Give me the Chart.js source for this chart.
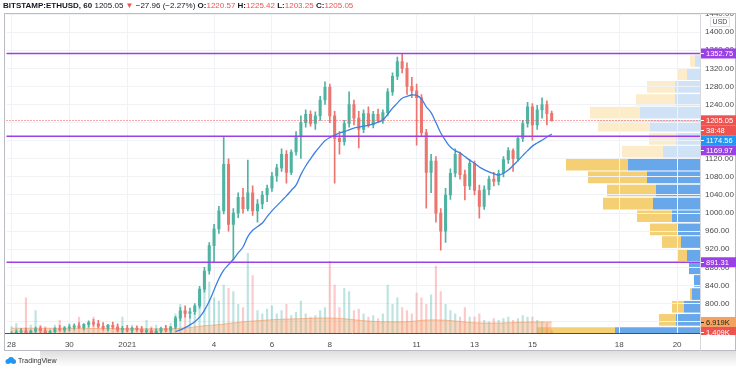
<!DOCTYPE html>
<html>
<head>
<meta charset="utf-8">
<script src="https://cdn.jsdelivr.net/npm/chart.js@4.4.1/dist/chart.umd.min.js"></script>
<style>
  html, body { margin: 0; padding: 0; background: #fff; }
  #wrap { position: relative; width: 736px; height: 369px; overflow: hidden;
          font-family: 'Liberation Sans Narrow', 'Liberation Sans', Arial, sans-serif; }
  #wrap canvas { position: absolute; left: 0; top: 0; }
  #head { position: absolute; left: 3px; top: 0; font-size: 8px; line-height: 11px; color: #131722; white-space: nowrap; }
  #head .r { color: #ef5350; }
  #shadow { position: absolute; left: 40px; right: 0; top: 351px; height: 16px;
            background: linear-gradient(rgba(0,0,0,0.13), rgba(0,0,0,0)); }
  #logo { position: absolute; left: 5px; top: 357px; font-size: 7px; color: #333; white-space: nowrap; }
  #logo svg { vertical-align: -1px; margin-right: 2px; }
</style>
</head>
<body>
<div id="wrap">
  <canvas id="vp" width="736" height="369"></canvas>
  <canvas id="chart" width="736" height="369"></canvas>
  <div id="head"><b>BITSTAMP:ETHUSD, 60</b> 1205.05 <span class="r">&#9660;</span> &minus;27.96 (&minus;2.27%) <b>O:</b><span class="r">1220.57</span> <b>H:</b><span class="r">1225.42</span> <b>L:</b><span class="r">1203.25</span> <b>C:</b><span class="r">1205.05</span></div>
  <div id="shadow"></div>
  <div id="logo"><svg width="11" height="7" viewBox="0 0 11 7"><circle cx="3" cy="4.5" r="2.5" fill="#2196f3"/><circle cx="6" cy="3" r="3" fill="#2196f3"/><circle cx="8.5" cy="4.5" r="2.5" fill="#2196f3"/></svg>TradingView</div>
</div>
<script>
// 4-hour candles from Dec 28 2020 00:00
const stepHours = 4;
const open = [728,734,737,740,736,739, 744,740,733,738,745,742, 746,748,751,747,754,758, 755,750,745,752,748,742,
  745,741,746,743,738,740, 736,739,745,741,748,768, 784,778,782,795,832,872, 928,965,1005,1108,975,1000,
  1035,1010,1045,1005,1020,1040, 1055,1082,1100,1130,1090,1135, 1170,1200,1218,1198,1215,1250, 1278,1215,1165,1158,1198,1240,
  1210,1185,1220,1195,1218,1205, 1222,1268,1302,1335,1320,1280, 1270,1255,1178,1090,1115,1000, 960,1040,1088,1130,1085,1060,
  1110,1050,1015,1052,1075,1070, 1088,1118,1138,1120,1165,1198, 1235,1195,1228,1240,1220.57];
const high = [738,742,745,746,742,748, 750,746,741,747,752,749, 753,755,758,756,762,765, 763,758,754,759,755,750,
  752,748,751,749,745,746, 744,748,752,750,772,792, 795,790,800,838,880,935, 975,1015,1168,1120,1010,1045,
  1055,1117,1060,1030,1048,1062, 1090,1108,1142,1138,1140,1180, 1215,1228,1226,1224,1258,1290, 1285,1225,1180,1205,1268,1250,
  1225,1228,1235,1225,1230,1228, 1275,1310,1345,1353,1332,1300, 1285,1262,1185,1130,1125,1010, 1055,1098,1142,1135,1095,1118,
  1115,1062,1060,1082,1090,1095, 1125,1145,1142,1170,1205,1245, 1242,1238,1255,1248,1225.42];
const low = [722,728,731,733,729,735, 736,730,726,734,739,737, 740,743,745,742,748,750, 746,742,740,744,738,736,
  738,735,739,734,731,733, 730,734,738,736,744,762, 770,768,776,790,825,865, 892,955,998,960,896,990,
  1000,1005,995,980,1010,1025, 1048,1070,1092,1066,1085,1128, 1121,1190,1192,1185,1205,1240, 1200,1066,1130,1150,1190,1195,
  1144,1178,1190,1188,1200,1198, 1215,1260,1295,1310,1262,1255, 1150,1170,1011,1045,980,918, 935,1030,1080,1075,1029,1052,
  1040,989,1008,1040,1060,1062, 1080,1110,1092,1115,1158,1190, 1161,1185,1210,1195,1203.25];
const close = [734,737,740,736,739,744, 740,733,738,745,742,746, 748,751,747,754,758,755, 750,745,752,748,742,745,
  741,746,743,738,740,736, 739,745,741,748,768,784, 778,782,795,832,872,928, 965,1005,1108,975,1000,1035,
  1010,1045,1005,1020,1040,1055, 1082,1100,1130,1090,1135,1170, 1200,1218,1198,1215,1250,1278, 1215,1165,1158,1198,1240,1210,
  1185,1220,1195,1218,1205,1222, 1268,1302,1335,1320,1280,1270, 1255,1178,1090,1115,1000,960, 1040,1088,1130,1085,1060,1110,
  1050,1015,1052,1075,1070,1088, 1118,1138,1120,1165,1198,1235, 1195,1228,1240,1220,1205.05];
// volume in thousands of ETH
const volume = [4,6,3,22,5,14, 5,4,3,5,8,4, 6,4,10,4,5,10, 6,4,5,3,5,10, 4,5,3,4,8,4, 5,3,4,6,12,18,
  14,10,16,20,28,32, 22,20,30,28,26,18, 16,50,36,14,12,15, 17,12,14,18,11,13, 20,12,10,11,14,16,
  45,30,16,28,26,14, 15,12,10,11,9,12, 30,18,22,16,14,12, 25,22,18,24,42,26, 18,14,12,10,16,10,
  10,12,8,7,9,8, 9,10,8,9,11,10, 10,8,7,6,1.4];
const volumeMA = [3,3,3,3,3,3, 3,3,3,3,3,3, 2.9,2.9,2.9,2.9,2.9,2.9, 2.8,2.8,2.8,2.8,2.8,2.8,
  2.7,2.7,2.7,2.6,2.6,2.6, 2.6,2.6,2.6,2.7,2.8,3, 3.2,3.5,3.8,4.2,4.5,4.8, 5,5.3,5.6,6,6.3,6.6,
  7,7.3,7.5,7.7,7.9,8.1, 8.3,8.5,8.6,8.7,8.8,8.9, 9,9.1,9.2,9.3,9.4,9.4, 9.4,9.3,9.1,8.9,8.6,8.3,
  8,7.7,7.5,7.3,7.1,7, 7,7,7,7,7.1,7.3, 7.6,7.9,8.1,8.2,8.2,8.1, 8,7.8,7.5,7.2,6.9,6.6,
  6.4,6.3,6.2,6.2,6.2,6.2, 6.3,6.4,6.5,6.6,6.7,6.8, 6.9,6.9,6.9,6.9,6.919];
// moving average, starts at candle 34
const maStart = 34;
const ma = [738,742,747,753,760,770, 785,805,830,855,874,886, 898,912,925,948,962,970, 978,992,1005,1016,1027,1038,
  1050,1062,1085,1104,1120,1135, 1148,1160,1167,1172,1177,1180, 1184,1188,1190,1192,1194,1197, 1201,1206,1218,1232,1243,1254,
  1258,1261,1260,1252,1235,1222, 1200,1177,1160,1146,1138,1133, 1125,1117,1110,1102,1096,1091, 1087,1084,1088,1095,1105,1116,
  1127,1138,1148,1155,1161,1168, 1174.56];

// volume profile (visible range) rows
const vpPrice = [1336,1307,1279,1250,1222,1193,1164,1136,1107,1079,1050,1021,993,964,936,907,878,850,821,793,764,735];
const vpUp    = [5,13,25,25,60,50,24,37,72,53,44,47,28,23,19,13,11,6,8,16,24,85];
const vpDown  = [5,10,28,39,50,52,27,41,62,59,49,50,35,27,19,9,0,0,2,12,17,78];
const valueAreaHigh = 1122;

const levels = [1352.75, 1169.97, 891.31];
const lastPrice = 1205.05;
const priceTicks = [760,800,840,880,920,960,1000,1040,1080,1120,1160,1200,1240,1280,1320,1360,1400,1440];
const tickDays = [0,2,4,7,9,11,14,16,18,21,23];
const tickNames = ['28','30','2021','4','6','8','11','13','15','18','20'];

const F = "'Liberation Sans Narrow', 'Liberation Sans', Arial, sans-serif";
const upCol = '#4fb3a2', dnCol = '#ec7570', purple = '#9a40e6';
const hrs = close.map((_, i) => i * stepHours);
const candleCol = close.map((c, i) => c >= open[i] ? upCol : dnCol);
const volCol = close.map((c, i) => c >= open[i] ? 'rgba(38,166,154,0.3)' : 'rgba(239,83,80,0.3)');

// volume profile sits underneath the price chart
new Chart(document.getElementById('vp'), {
  type: 'bar',
  data: {
    datasets: [
      { data: vpPrice.map((p, k) => ({ x: vpUp[k], y: p })),
        backgroundColor: vpPrice.map(p => p < valueAreaHigh ? '#68a7ea' : '#cfe2f6') },
      { data: vpPrice.map((p, k) => ({ x: vpDown[k], y: p })),
        backgroundColor: vpPrice.map(p => p < valueAreaHigh ? '#f5cf73' : '#fdecc9') }
    ]
  },
  options: {
    indexAxis: 'y', responsive: false, animation: false,
    layout: { padding: { left: 5, top: 14, right: 36, bottom: 36 } },
    plugins: { legend: { display: false }, tooltip: { enabled: false } },
    datasets: { bar: { categoryPercentage: 1, barPercentage: 0.92 } },
    scales: {
      x: { type: 'linear', display: false, reverse: true, min: 0, max: 695, stacked: true },
      y: { type: 'linear', display: false, min: 735, max: 1440, stacked: true, offset: false }
    }
  }
});

function priceLabel(ctx, y, text, bg, fg) {
  ctx.fillStyle = bg;
  ctx.fillRect(701, y - 5, 35, 10);
  ctx.fillStyle = fg;
  ctx.fillRect(701, Math.round(y), 3, 1);
  ctx.fillText(text, 706, y + 0.5);
}

const drawings = {
  id: 'drawings',
  afterDatasetsDraw(chart) {
    const { ctx, chartArea: a, scales: { y } } = chart;
    ctx.save();
    ctx.strokeStyle = '#ef5350';
    ctx.lineWidth = 1;
    ctx.setLineDash([1, 2]);
    const py = Math.round(y.getPixelForValue(lastPrice)) + 0.5;
    ctx.beginPath(); ctx.moveTo(a.left, py); ctx.lineTo(a.right, py); ctx.stroke();
    ctx.setLineDash([]);
    ctx.strokeStyle = purple;
    ctx.lineWidth = 1.6;
    levels.forEach(v => {
      const ly = y.getPixelForValue(v);
      ctx.beginPath(); ctx.moveTo(a.left, ly); ctx.lineTo(a.right + 2, ly); ctx.stroke();
    });
    ctx.restore();
  },
  afterDraw(chart) {
    const { ctx, scales: { y, yVol } } = chart;
    ctx.save();
    ctx.clearRect(700, 0, 36, 13);

    // frame
    ctx.lineWidth = 1;
    ctx.strokeStyle = '#b9bcc3';
    ctx.strokeRect(4.5, 13.5, 731, 337);
    ctx.strokeStyle = '#d6d8de';
    ctx.beginPath(); ctx.moveTo(700.5, 13); ctx.lineTo(700.5, 351); ctx.stroke();
    ctx.strokeStyle = '#4b4e57';
    ctx.beginPath(); ctx.moveTo(5, 333.5); ctx.lineTo(700, 333.5); ctx.stroke();

    // USD badge
    ctx.fillStyle = '#fff';
    ctx.fillRect(710, 17, 20, 10);
    ctx.strokeStyle = '#dfe1e6';
    ctx.strokeRect(710.5, 17.5, 19, 9);
    ctx.fillStyle = '#4a4a4a';
    ctx.font = `7px ${F}`;
    ctx.textAlign = 'center';
    ctx.textBaseline = 'middle';
    ctx.fillText('USD', 720, 22.5);

    // labels on the price scale, pushed apart like TradingView does
    const labels = [
      { y: y.getPixelForValue(1352.75), t: '1352.75', bg: purple, fg: '#fff' },
      { y: y.getPixelForValue(lastPrice), t: '1205.05', bg: '#ef5350', fg: '#fff' },
      { y: y.getPixelForValue(lastPrice) + 0.1, t: '38:48', bg: '#ef5350', fg: '#fff' },
      { y: y.getPixelForValue(ma[ma.length - 1]), t: '1174.56', bg: '#2196f3', fg: '#fff' },
      { y: y.getPixelForValue(1169.97), t: '1169.97', bg: purple, fg: '#fff' },
      { y: y.getPixelForValue(891.31), t: '891.31', bg: purple, fg: '#fff' },
      { y: yVol.getPixelForValue(volumeMA[volumeMA.length - 1]), t: '6.919K', bg: '#f4a35e', fg: '#222' },
      { y: yVol.getPixelForValue(volume[volume.length - 1]), t: '1.409K', bg: '#ef5350', fg: '#fff' }
    ].sort((p, q) => p.y - q.y);
    for (let k = 1; k < labels.length; k++) {
      if (labels[k].y < labels[k - 1].y + 10) labels[k].y = labels[k - 1].y + 10;
    }
    ctx.beginPath(); ctx.rect(700, 13, 36, 322); ctx.clip();
    ctx.font = `7.5px ${F}`;
    ctx.textAlign = 'left';
    labels.forEach(l => priceLabel(ctx, l.y, l.t, l.bg, l.fg));
    ctx.restore();
  }
};

new Chart(document.getElementById('chart'), {
  type: 'bar',
  data: {
    datasets: [
      { type: 'line', data: ma.map((v, k) => ({ x: (maStart + k) * stepHours, y: v })),
        borderColor: '#3b80e2', borderWidth: 1.3, pointRadius: 0, tension: 0.4, order: 1 },
      { data: hrs.map((x, i) => ({ x, y: [open[i], close[i]] })),
        backgroundColor: candleCol, barThickness: 2.4, minBarLength: 1, grouped: false, order: 2 },
      { data: hrs.map((x, i) => ({ x, y: [low[i], high[i]] })),
        backgroundColor: candleCol, barThickness: 1, grouped: false, order: 3 },
      { type: 'line', yAxisID: 'yVol', data: hrs.map((x, i) => ({ x, y: volumeMA[i] })),
        fill: 'origin', backgroundColor: 'rgba(244,168,118,0.45)', borderColor: 'rgba(240,150,95,0.6)',
        borderWidth: 1, pointRadius: 0, tension: 0.4, order: 4 },
      { yAxisID: 'yVol', data: hrs.map((x, i) => ({ x, y: volume[i] })),
        backgroundColor: volCol, barThickness: 1.5, grouped: false, order: 5 }
    ]
  },
  options: {
    responsive: false, animation: false,
    layout: { padding: { left: 5, top: 14, right: 0, bottom: 13 } },
    plugins: { legend: { display: false }, tooltip: { enabled: false } },
    scales: {
      x: {
        type: 'linear', min: -4.14, max: 571, offset: false,
        grid: { color: '#f0f2f6', drawTicks: false, offset: false },
        border: { display: false },
        afterBuildTicks: s => { s.ticks = tickDays.map(d => ({ value: d * 24 })); },
        afterFit: s => { s.height = 23; },
        ticks: { autoSkip: false, maxRotation: 0, padding: 7, color: '#4a4a4a',
                 font: { family: F, size: 8 }, callback: (v, i) => tickNames[i] }
      },
      y: {
        type: 'linear', position: 'right', min: 735, max: 1440,
        grid: { color: '#f0f2f6', drawTicks: false },
        border: { display: false },
        afterBuildTicks: s => { s.ticks = priceTicks.map(v => ({ value: v })); },
        afterFit: s => { s.width = 36; },
        ticks: { padding: 5, color: '#4a4a4a', font: { family: F, size: 8 }, callback: v => v.toFixed(2) }
      },
      yVol: { type: 'linear', display: false, min: 0, max: 200 }
    }
  },
  plugins: [drawings]
});
</script>
</body>
</html>
